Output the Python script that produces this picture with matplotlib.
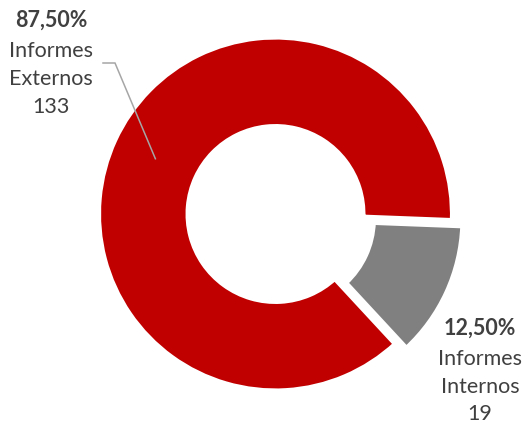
import numpy as np
import matplotlib
matplotlib.use("Agg")
import matplotlib.pyplot as plt

# ---- data ----
categories = ["Informes Externos", "Informes Internos"]
values = [133, 19]
percent_labels = ["87,50%", "12,50%"]
colors = ["#C00000", "#808080"]

W, H = 527, 423
fig = plt.figure(figsize=(W / 100, H / 100), dpi=100)
ax = fig.add_axes([0, 0, 1, 1])

cx, cy = 275.5, H - 214.0
R = 177.2
ring = 90.0

wedges, _ = ax.pie(
    values,
    colors=colors,
    startangle=-2.2,
    counterclock=True,
    center=(cx, cy),
    radius=R,
    explode=[0, 11.5],
    wedgeprops=dict(width=ring, edgecolor="white", linewidth=4.0),
)
ax.set_xlim(0, W)
ax.set_ylim(0, H)
ax.set_aspect("equal")
ax.axis("off")

font = "Lato"
tcol = "#404040"
fs = 15.5

# label blocks: (x center, baselines in image px)
label_pos = [(51, [27, 57, 85, 113]), (480, [335, 364.5, 392.5, 419.5])]
for i, (xc, bl) in enumerate(label_pos):
    words = categories[i].split(" ")
    lines = [percent_labels[i], words[0], words[1], str(values[i])]
    for j, (ln, b) in enumerate(zip(lines, bl)):
        ax.text(xc, H - b, ln, ha="center", va="baseline", fontsize=fs,
                family=font, color=tcol, fontweight="bold" if j == 0 else "normal")

# leader line from left label to the middle of the red wedge
w0 = wedges[0]
tm = np.deg2rad((w0.theta1 + w0.theta2) / 2)
rm = R - ring / 2
px, py = w0.center[0] + rm * np.cos(tm), w0.center[1] + rm * np.sin(tm)
ax.plot([103, 115, px], [H - 63, H - 63, py], color="#A6A6A6", lw=1.1,
        solid_joinstyle="miter")

fig.savefig("out.png", dpi=100)
